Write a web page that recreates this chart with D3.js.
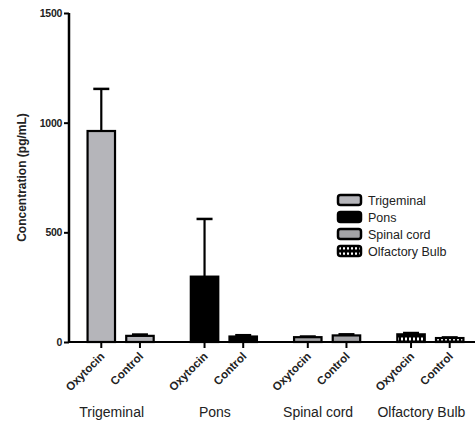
<!DOCTYPE html>
<html><head><meta charset="utf-8">
<script src="https://cdn.jsdelivr.net/npm/d3@7"></script>
<style>html,body{margin:0;padding:0;background:#fff;}svg{display:block;}</style>
</head><body>
<svg id="chart" width="475" height="429"></svg>
<script>
const regions = ["Trigeminal", "Pons", "Spinal cord", "Olfactory Bulb"];
const treatments = ["Oxytocin", "Control"];
const oxytocinMeans = [962, 298, 22, 35];
const oxytocinErrors = [192, 263, 3, 6];
const controlMeans = [28, 25, 30, 18];
const controlErrors = [6, 6, 5, 3];
const yTicks = [0, 500, 1000, 1500];
const yLabel = "Concentration (pg/mL)";

const fills = {"Trigeminal": "#b5b5ba", "Pons": "#000", "Spinal cord": "#a3a3a6", "Olfactory Bulb": "url(#olf)"};

const rows = [];
regions.forEach((r, i) => {
  rows.push({region: r, treat: "Oxytocin", v: oxytocinMeans[i], e: oxytocinErrors[i]});
  rows.push({region: r, treat: "Control", v: controlMeans[i], e: controlErrors[i]});
});

const svg = d3.select("#chart");
const defs = svg.append("defs");
const pat = defs.append("pattern").attr("id", "olf").attr("patternUnits", "userSpaceOnUse")
  .attr("width", 4).attr("height", 6);
pat.append("rect").attr("width", 4).attr("height", 6).attr("fill", "#000");
pat.append("rect").attr("x", 1).attr("y", 1.5).attr("width", 2).attr("height", 3).attr("fill", "#fff");

const y = d3.scaleLinear().domain([0, 1500]).range([342, 13]);
const x0 = d3.scaleBand().domain(regions).range([69, 482]).paddingInner(0).paddingOuter(0);
const x1 = d3.scaleBand().domain(treatments).range([0, x0.bandwidth()]).paddingInner(0.29).paddingOuter(0.48);

// bars
const g = svg.append("g");
g.selectAll("rect.bar").data(rows).join("rect").attr("class", "bar")
  .attr("x", d => x0(d.region) + x1(d.treat))
  .attr("y", d => y(d.v))
  .attr("width", x1.bandwidth())
  .attr("height", d => y(0) - y(d.v))
  .attr("fill", d => fills[d.region])
  .attr("stroke", "#000").attr("stroke-width", 2.2);

// error bars (upper only)
const cx = d => x0(d.region) + x1(d.treat) + x1.bandwidth() / 2;
g.selectAll("line.err").data(rows).join("line").attr("class", "err")
  .attr("x1", cx).attr("x2", cx)
  .attr("y1", d => y(d.v)).attr("y2", d => y(d.v + d.e))
  .attr("stroke", "#000").attr("stroke-width", 2.2);
g.selectAll("line.cap").data(rows).join("line").attr("class", "cap")
  .attr("x1", d => cx(d) - 8).attr("x2", d => cx(d) + 8)
  .attr("y1", d => y(d.v + d.e)).attr("y2", d => y(d.v + d.e))
  .attr("stroke", "#000").attr("stroke-width", 2.5);

// y axis
const yAxis = svg.append("g").attr("transform", "translate(69,0)")
  .call(d3.axisLeft(y).tickValues(yTicks).tickSize(5).tickPadding(2).tickFormat(d3.format("d")));
yAxis.select(".domain").attr("stroke", "#000").attr("stroke-width", 2.5).attr("d", "M0,13V342");
yAxis.selectAll(".tick line").attr("stroke", "#000").attr("stroke-width", 2);
yAxis.selectAll(".tick text").attr("font-family", "Liberation Sans, Arial, sans-serif")
  .attr("font-size", 10.5).attr("font-weight", "bold").attr("fill", "#222").attr("letter-spacing", "-0.3");

// x axis line
svg.append("line").attr("x1", 68).attr("x2", 475).attr("y1", y(0)).attr("y2", y(0))
  .attr("stroke", "#000").attr("stroke-width", 2);

// x ticks and category labels
const xt = svg.append("g");
xt.selectAll("line").data(rows).join("line")
  .attr("x1", cx).attr("x2", cx).attr("y1", y(0)).attr("y2", y(0) + 6)
  .attr("stroke", "#000").attr("stroke-width", 2);
xt.selectAll("text").data(rows).join("text")
  .attr("transform", d => `translate(${cx(d) + 4},${y(0) + 15}) rotate(-45)`)
  .attr("text-anchor", "end")
  .attr("font-family", "Liberation Sans, Arial, sans-serif")
  .attr("font-size", 11.5).attr("font-weight", "bold").attr("fill", "#222")
  .text(d => d.treat);

// group labels
svg.append("g").selectAll("text").data(regions).join("text")
  .attr("x", d => x0(d) + x0.bandwidth() / 2 - 9)
  .attr("y", 417)
  .attr("text-anchor", "middle")
  .attr("font-family", "Liberation Sans, Arial, sans-serif")
  .attr("font-size", 14).attr("fill", "#222")
  .text(d => d);

// y label
svg.append("text")
  .attr("transform", `translate(26,${(y(0) + y(1500)) / 2}) rotate(-90)`)
  .attr("text-anchor", "middle")
  .attr("font-family", "Liberation Sans, Arial, sans-serif")
  .attr("font-size", 12).attr("font-weight", "bold").attr("fill", "#222")
  .text(yLabel);

// legend
const lg = svg.append("g").attr("transform", "translate(338,200)");
const li = lg.selectAll("g").data(regions).join("g").attr("transform", (d, i) => `translate(0,${i * 17})`);
li.append("rect").attr("x", 0).attr("y", -5).attr("width", 23).attr("height", 10)
  .attr("rx", 2.5).attr("fill", d => fills[d]).attr("stroke", "#000").attr("stroke-width", 2.5);
li.append("text").attr("x", 30).attr("y", 4.5)
  .attr("font-family", "Liberation Sans, Arial, sans-serif")
  .attr("font-size", 12.5).attr("fill", "#222")
  .text(d => d);
</script>
</body></html>
